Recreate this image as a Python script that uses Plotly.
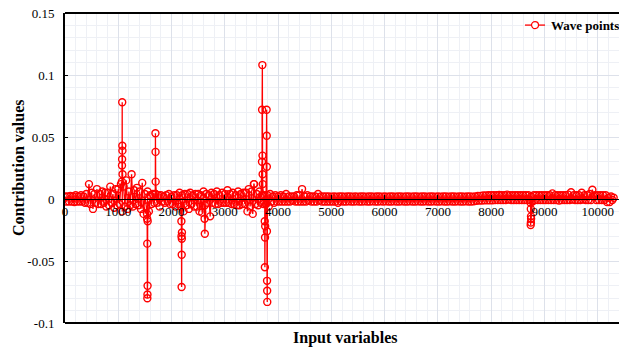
import plotly.graph_objects as go

# ---- data (input variable index -> contribution) ----
# Dense background band: the series swings between an upper value (at 0, 50, 100, ...)
# and a lower value (at 25, 75, 125, ...); grouped per thousand input variables.
upper_0000 = [0.002, 0.002, 0.0025, 0.002, 0.003, 0.002, 0.003, 0.002, 0.004, 0.012,
              0.005, 0.004, 0.008, 0.004, 0.006, 0.005, 0.005, 0.010, 0.004, 0.008]
lower_0000 = [-0.002, -0.002, -0.002, -0.0025, -0.002, -0.002, -0.002, -0.003, -0.003, -0.004,
              -0.008, -0.003, -0.004, -0.004, -0.003, -0.006, -0.005, -0.003, -0.007, -0.005]
upper_1000 = [0.008, 0.012, 0.010, 0.015, 0.006, 0.020, 0.007, 0.009, 0.006, 0.013,
              0.004, 0.006, 0.003, 0.004, 0.004, 0.003, 0.003, 0.002, 0.003, 0.004]
lower_1000 = [-0.004, -0.010, -0.006, -0.008, -0.005, -0.006, -0.004, -0.005, -0.008, -0.012,
              -0.006, -0.010, -0.004, -0.003, -0.003, -0.006, -0.002, -0.003, -0.002, -0.004]
upper_2000 = [0.002, 0.003, 0.003, 0.005, 0.003, 0.004, 0.004, 0.005, 0.003, 0.004,
              0.004, 0.003, 0.006, 0.004, 0.003, 0.005, 0.004, 0.006, 0.003, 0.005]
lower_2000 = [-0.004, -0.006, -0.004, -0.006, -0.010, -0.005, -0.008, -0.004, -0.006, -0.006,
              -0.010, -0.011, -0.005, -0.003, -0.014, -0.003, -0.004, -0.004, -0.003, -0.003]
upper_3000 = [0.004, 0.007, 0.004, 0.005, 0.003, 0.006, 0.004, 0.005, 0.005, 0.008,
              0.006, 0.012, 0.004, 0.006, 0.003, 0.003, 0.003, 0.004, 0.002, 0.003]
lower_3000 = [-0.003, -0.003, -0.004, -0.004, -0.005, -0.005, -0.004, -0.004, -0.010, -0.006,
              -0.012, -0.004, -0.005, -0.003, -0.004, -0.004, -0.006, -0.002, -0.003, -0.002]
upper_4000 = [0.002, 0.003, 0.002, 0.004, 0.002, 0.002, 0.002, 0.003, 0.003, 0.008,
              0.002, 0.003, 0.002, 0.002, 0.002, 0.004, 0.002, 0.002, 0.002, 0.002]
lower_4000 = [-0.002, -0.002, -0.002, -0.002, -0.002, -0.0015, -0.002, -0.002, -0.002, -0.002,
              -0.002, -0.0015, -0.002, -0.002, -0.002, -0.0015, -0.002, -0.002, -0.002, -0.002]
upper_5000 = [0.0018, 0.002, 0.0018, 0.002, 0.002, 0.0018, 0.002, 0.002, 0.0018, 0.002,
              0.0018, 0.002, 0.002, 0.0018, 0.002, 0.002, 0.0018, 0.002, 0.002, 0.0018]
lower_5000 = [-0.002, -0.002, -0.003, -0.0018, -0.002, -0.002, -0.0018, -0.002, -0.002, -0.0018,
              -0.002, -0.002, -0.0018, -0.002, -0.002, -0.0018, -0.002, -0.002, -0.0018, -0.002]
upper_6000 = [0.002, 0.0018, 0.002, 0.002, 0.0018, 0.002, 0.002, 0.0018, 0.002, 0.002,
              0.0018, 0.002, 0.002, 0.0018, 0.002, 0.002, 0.0018, 0.002, 0.002, 0.0018]
lower_6000 = [-0.0018, -0.002, -0.002, -0.0018, -0.002, -0.002, -0.0018, -0.002, -0.002, -0.0018,
              -0.002, -0.002, -0.0018, -0.002, -0.002, -0.0018, -0.002, -0.002, -0.0018, -0.002]
upper_7000 = [0.002, 0.0018, 0.002, 0.002, 0.0018, 0.002, 0.002, 0.0018, 0.002, 0.002,
              0.0018, 0.002, 0.002, 0.0018, 0.002, 0.0025, 0.0025, 0.0028, 0.0028, 0.003]
lower_7000 = [-0.002, -0.0018, -0.002, -0.002, -0.0018, -0.002, -0.002, -0.0018, -0.002, -0.002,
              -0.0018, -0.002, -0.002, -0.0018, -0.0015, -0.0012, -0.0012, -0.001, -0.001, -0.001]
upper_8000 = [0.003, 0.003, 0.003, 0.0032, 0.003, 0.003, 0.0035, 0.003, 0.003, 0.003,
              0.003, 0.003, 0.003, 0.003, 0.003, 0.002, 0.003, 0.003, 0.003, 0.003]
lower_8000 = [-0.001, -0.0008, -0.0008, -0.0008, -0.0008, -0.0008, -0.0005, -0.0008, -0.0008, -0.0008,
              -0.0008, -0.0008, -0.0008, -0.0008, -0.0008, -0.002, -0.0008, -0.0008, -0.0008, -0.0008]
upper_9000 = [0.003, 0.003, 0.003, 0.0045, 0.003, 0.003, 0.003, 0.003, 0.003, 0.0035,
              0.0055, 0.003, 0.003, 0.003, 0.005, 0.003, 0.003, 0.004, 0.0075, 0.003]
lower_9000 = [-0.0008, -0.0008, -0.0008, -0.0008, -0.0008, -0.0012, -0.0008, -0.0008, -0.0008, -0.0008,
              -0.0005, -0.0008, -0.0008, -0.0008, -0.0005, -0.0008, -0.0008, -0.0008, 0.002, -0.0008]
upper_10000 = [0.003, 0.003, 0.003, 0.003, 0.001, 0.002, 0.001]
lower_10000 = [-0.0008, -0.0008, -0.0008, -0.0025, -0.0025, -0.0008]

upper_blocks = [upper_0000, upper_1000, upper_2000, upper_3000, upper_4000, upper_5000,
                upper_6000, upper_7000, upper_8000, upper_9000, upper_10000]
lower_blocks = [lower_0000, lower_1000, lower_2000, lower_3000, lower_4000, lower_5000,
                lower_6000, lower_7000, lower_8000, lower_9000, lower_10000]
band_step = 50
lower_offset = 25

# Isolated spikes (input variable index, contribution)
spike_index = [1068, 1070, 1072, 1074, 1076, 1078, 1080,
               1540, 1542, 1544, 1546, 1548, 1550, 1552,
               1695, 1698, 1700, 1702,
               2185, 2187, 2189, 2191, 2193, 2195,
               2620, 2625,
               3545,
               3698, 3700, 3705, 3708, 3710, 3712,
               3750, 3752, 3755, 3758,
               3785, 3787, 3789, 3791, 3793, 3795, 3797,
               8740, 8742, 8744, 8746, 8748, 8750]
spike_value = [0.014, 0.027, 0.032, 0.078, 0.043, 0.039, 0.020,
               -0.012, -0.016, -0.036, -0.080, -0.077, -0.070, -0.018,
               0.004, 0.053, 0.038, 0.014,
               -0.018, -0.030, -0.071, -0.045, -0.032, -0.027,
               -0.016, -0.028,
               0.012,
               0.030, 0.072, 0.108, 0.035, 0.020, 0.012,
               -0.018, -0.055, -0.031, -0.022,
               0.072, 0.051, 0.026, -0.026, -0.066, -0.074, -0.083,
               -0.003, -0.021, -0.008, -0.019, -0.014, -0.016]

series_name = "Wave points"
x_ticks = [0, 1000, 2000, 3000, 4000, 5000, 6000, 7000, 8000, 9000, 10000]
x_tick_text = ["0", "1000", "2000", "3000", "4000", "5000", "6000", "7000", "8000", "9000", "10000"]
y_ticks = [-0.1, -0.05, 0, 0.05, 0.1, 0.15]
y_tick_text = ["-0.1", "-0.05", "0", "0.05", "0.1", "0.15"]

# ---- assemble the series ----
pts = []
for k, block in enumerate(upper_blocks):
    for j, v in enumerate(block):
        pts.append((k * 1000 + j * band_step, v))
for k, block in enumerate(lower_blocks):
    for j, v in enumerate(block):
        pts.append((k * 1000 + j * band_step + lower_offset, v))
pts += list(zip(spike_index, spike_value))
pts.sort(key=lambda p: p[0])
xs = [p[0] for p in pts]
ys = [p[1] for p in pts]

SERIF = "Liberation Serif"
RED = "#ff0000"
GRID_MAJOR = "rgb(221,225,234)"
GRID_MINOR = "rgb(238,240,245)"

fig = go.Figure()
fig.add_trace(go.Scatter(
    x=xs, y=ys, mode="lines+markers", name=series_name, showlegend=False,
    line=dict(color=RED, width=1.3, simplify=False),
    marker=dict(symbol="circle-open", size=7, color=RED, line=dict(width=1.4, color=RED)),
))

# Legend key drawn in paper space (line + open circle + label) at the top right
leg_y = 0.961
legend_shapes = [
    dict(type="line", xref="paper", yref="paper", x0=0.8303, x1=0.8664, y0=leg_y, y1=leg_y,
         line=dict(color=RED, width=1.3)),
    dict(type="circle", xref="paper", yref="paper", x0=0.8421, x1=0.8547,
         y0=leg_y - 0.0113, y1=leg_y + 0.0113,
         line=dict(color=RED, width=1.2), fillcolor="white"),
]

fig.update_layout(
    width=619, height=351,
    margin=dict(l=65, r=0, t=13, b=28),
    paper_bgcolor="white", plot_bgcolor="white",
    font=dict(family=SERIF, size=13, color="black"),
    showlegend=False,
    xaxis=dict(
        range=[0, 10400], tickvals=x_ticks, ticktext=x_tick_text,
        ticks="inside", ticklen=4,
        tickcolor="black", showline=True, linecolor="black", linewidth=1,
        anchor="free", position=0.4, zeroline=False,
        showgrid=True, gridcolor=GRID_MAJOR, gridwidth=1,
        minor=dict(dtick=200, tick0=0, showgrid=True, gridcolor=GRID_MINOR, gridwidth=1),
        tickfont=dict(family=SERIF, size=13, color="black"),
    ),
    yaxis=dict(
        range=[-0.1, 0.15], tickvals=y_ticks, ticktext=y_tick_text,
        ticks="inside", ticklen=3, tickcolor="black",
        showline=True, linecolor="black", linewidth=2, zeroline=False,
        showgrid=True, gridcolor=GRID_MAJOR, gridwidth=1,
        minor=dict(dtick=0.01, tick0=0, showgrid=True, gridcolor=GRID_MINOR, gridwidth=1),
        tickfont=dict(family=SERIF, size=13, color="black"),
        ticklabelstandoff=6,
    ),
    shapes=[
        dict(type="line", xref="paper", yref="paper", x0=0, x1=1, y0=1, y1=1,
             line=dict(color="black", width=2)),
        dict(type="line", xref="paper", yref="paper", x0=0, x1=1, y0=0, y1=0,
             line=dict(color="black", width=2)),
    ] + legend_shapes,
    annotations=[
        dict(text="<b>Contribution values</b>", xref="paper", yref="paper",
             x=0, xshift=-47, y=0.5, textangle=-90, showarrow=False,
             xanchor="center", yanchor="middle",
             font=dict(family=SERIF, size=16, color="black")),
        dict(text="<b>Input variables</b>", xref="paper", yref="paper",
             x=0.505, y=0, yshift=-15, showarrow=False,
             xanchor="center", yanchor="middle",
             font=dict(family=SERIF, size=16, color="black")),
        dict(text="<b>" + series_name + "</b>", xref="paper", yref="paper",
             x=0.8736, y=leg_y, showarrow=False, xanchor="left", yanchor="middle",
             font=dict(family=SERIF, size=13, color="black")),
    ],
)

fig.write_html("out.html", config={"displayModeBar": False},
               post_script="document.body.style.margin='0';")
